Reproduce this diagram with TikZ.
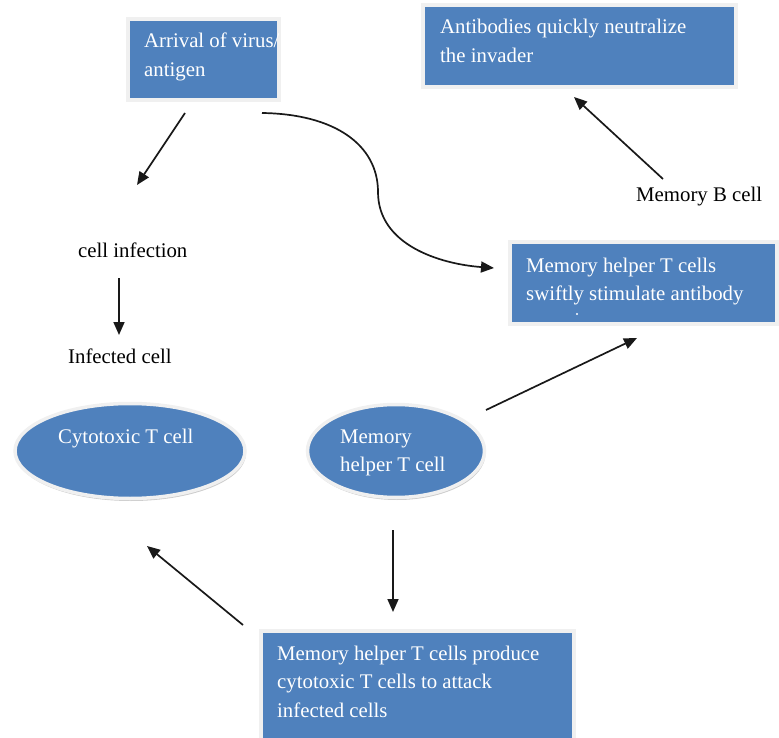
\documentclass[tikz,border=0pt]{standalone}
\usepackage{fontspec}
\setmainfont{Liberation Serif}
\usetikzlibrary{shapes.geometric,arrows.meta,shadows}
\definecolor{boxblue}{HTML}{4F81BD}
\definecolor{rim}{HTML}{F0F0F0}
\tikzset{
  bluebox/.style={rectangle, fill=boxblue, draw=rim, line width=4pt, inner sep=0pt, outer sep=0pt, anchor=north west},
  bluecell/.style={ellipse, fill=boxblue, draw=rim, line width=3.5pt, inner sep=0pt,
     drop shadow={opacity=0.4, shadow xshift=1pt, shadow yshift=-2.5pt}},
  wtxt/.style={text=white, font=\fontsize{20.8}{28.5}\selectfont, inner sep=0pt, anchor=base west, align=left},
  btxt/.style={text=black, font=\fontsize{20.8}{28.5}\selectfont, inner sep=0pt, anchor=base west},
  arr/.style={draw=black!90, line width=1.7pt, -{Triangle[length=13pt,width=11pt]}},
}
\begin{document}
\begin{tikzpicture}[x=1pt,y=-1pt]
\useasboundingbox (0,0) rectangle (779,738);
% boxes
\node[bluebox, minimum width=151pt, minimum height=81pt] (arrival) at (128,19) {};
\node[wtxt] (arrivalT) at (144,76.5) {Arrival of virus/\\antigen};
\node[bluebox, minimum width=313pt, minimum height=82pt] (antib) at (423,5) {};
\node[wtxt] (antibT) at (440,62.5) {Antibodies quickly neutralize\\the invader};
\node[bluebox, minimum width=267pt, minimum height=82pt] (swift) at (510,242) {};
\node[wtxt] (swiftT) at (526,300.5) {Memory helper T cells\\swiftly stimulate antibody};
\fill[white] (577,314) circle (1.1pt);
\node[bluebox, minimum width=313pt, minimum height=114pt] (produce) at (261,631) {};
\node[wtxt] (produceT) at (277,717) {Memory helper T cells produce\\cytotoxic T cells to attack\\infected cells};
% ellipses
\node[bluecell, minimum width=230pt, minimum height=95pt] (cyto) at (130,451) {};
\node[wtxt] (cytoT) at (58,443) {Cytotoxic T cell};
\node[bluecell, minimum width=177pt, minimum height=93pt] (mem) at (396,451) {};
\node[wtxt] (memT) at (340,471.5) {Memory\\helper T cell};
% plain labels
\node[btxt] (inf) at (78,257) {cell infection};
\node[btxt] (infd) at (68,363) {Infected cell};
\node[btxt] (memb) at (636,202) {Memory B cell};
% connector ends
\coordinate (a1s) at (185,113);
\coordinate (a1e) at (137,185);
\coordinate (a2s) at (119,278);
\coordinate (a2e) at (119,335);
\coordinate (a3s) at (262,113);
\coordinate (a3m) at (378,192);
\coordinate (a3e) at (494,268);
\coordinate (a4s) at (663,179);
\coordinate (a4e) at (574,97);
\coordinate (a5s) at (486,410);
\coordinate (a5e) at (637,338);
\coordinate (a6s) at (393,530);
\coordinate (a6e) at (393,612);
\coordinate (a7s) at (243,625);
\coordinate (a7e) at (147,546);
% connectors
\draw[arr] (a1s) -- (a1e);
\draw[arr] (a2s) -- (a2e);
\draw[arr] (a3s) .. controls (335,114) and (378,145) .. (a3m) .. controls (378,245) and (440,264) .. (a3e);
\draw[arr] (a4s) -- (a4e);
\draw[arr] (a5s) -- (a5e);
\draw[arr] (a6s) -- (a6e);
\draw[arr] (a7s) -- (a7e);
\end{tikzpicture}
\end{document}
